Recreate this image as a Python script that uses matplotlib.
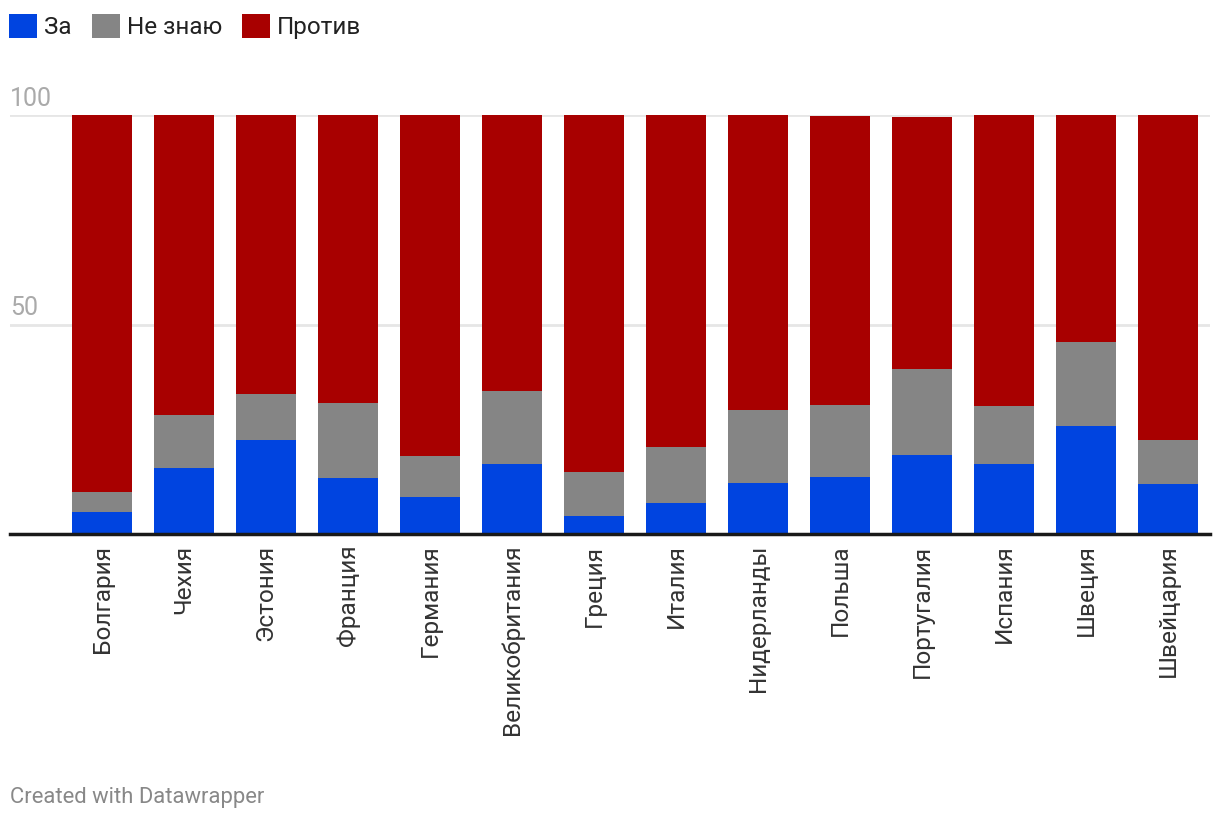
import matplotlib
matplotlib.use('Agg')
import matplotlib.pyplot as plt
import numpy as np

plt.rcParams['font.family'] = ['Roboto', 'DejaVu Sans']

countries = ['Болгария', 'Чехия', 'Эстония', 'Франция', 'Германия', 'Великобритания',
             'Греция', 'Италия', 'Нидерланды', 'Польша', 'Португалия', 'Испания',
             'Швеция', 'Швейцария']
za = [5.1, 15.7, 22.4, 13.3, 8.7, 16.7, 4.3, 7.4, 12.1, 13.5, 18.8, 16.6, 25.7, 11.8]
ne_znayu = [4.8, 12.7, 10.9, 17.9, 9.8, 17.3, 10.3, 13.2, 17.4, 17.2, 20.6, 13.9, 20.1, 10.6]
protiv = [90.1, 71.6, 66.7, 68.85, 81.5, 66.0, 85.4, 79.4, 70.5, 69.1, 60.3, 69.5, 54.2, 77.6]
series_names = ['За', 'Не знаю', 'Против']
colors = ['#0044e0', '#858585', '#a80000']

fig = plt.figure(figsize=(12.2, 8.22), dpi=100)
W, H = 1220, 822
ax = fig.add_axes([10 / W, 1 - 533.5 / H, 1200 / W, 418 / H])

x = np.arange(len(countries))
bottom = np.zeros(len(countries))
handles = []
for vals, name, col in zip([za, ne_znayu, protiv], series_names, colors):
    b = ax.bar(x, vals, width=0.732, bottom=bottom, color=col, label=name, zorder=2,
               clip_on=False)
    handles.append(b)
    bottom += np.array(vals)

ax.set_xlim(-1.122, 13.512)
ax.set_ylim(0, 100)
ax.set_yticks([50, 100])
ax.set_yticklabels([])
ax.tick_params(axis='y', length=0)
ax.grid(axis='y', color='#e6e6e6', linewidth=2, zorder=0)
for s in ['top', 'right', 'left']:
    ax.spines[s].set_visible(False)
ax.spines['bottom'].set_color('#1a1a1a')
ax.spines['bottom'].set_linewidth(2.5)
ax.spines['bottom'].set_zorder(3)

for v in [50, 100]:
    ax.text(0, v + 1.0, str(v), transform=ax.get_yaxis_transform(), ha='left', va='bottom',
            fontsize=18, color='#aaaaaa')

ax.set_xticks(x)
ax.set_xticklabels(countries, rotation=90, fontsize=17.6, color='#333333', va='top', ha='center')
ax.tick_params(axis='x', length=0, pad=8)

fig.legend(handles=handles, labels=series_names, loc='upper left',
           bbox_to_anchor=(9 / W, 1 - 14 / H), ncol=3, frameon=False, fontsize=17.5,
           handlelength=1.15, handleheight=1.15, handletextpad=0.3, columnspacing=0.82,
           borderaxespad=0, borderpad=0, labelcolor='#222222')

fig.text(10 / W, 1 - 797 / H, 'Created with Datawrapper', fontsize=15.8, color='#888888',
         ha='left', va='center')

fig.savefig('out.png', dpi=100, facecolor='white')
